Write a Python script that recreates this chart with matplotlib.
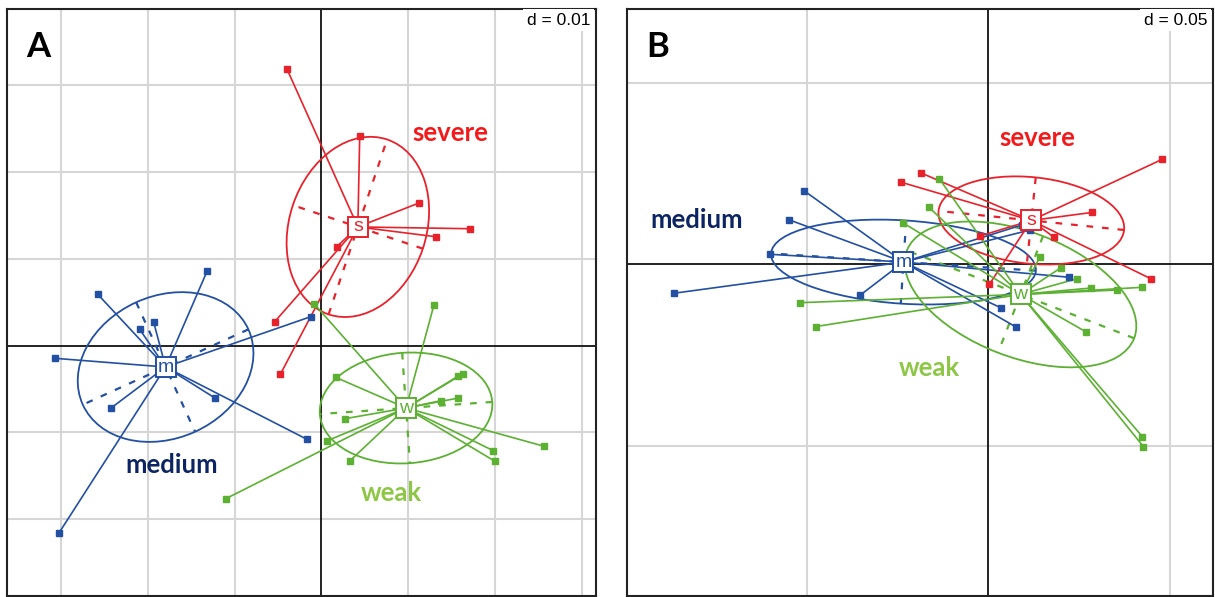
import numpy as np
import matplotlib
matplotlib.use("Agg")
import matplotlib.pyplot as plt
from matplotlib.patches import Ellipse

# ---------------- Panel A (grid step d = 0.01) ----------------
a_severe_x = [-0.00398, 0.00441, 0.01125, 0.01708, 0.01315, 0.00176, -0.00539, -0.00473]
a_severe_y = [0.03189, 0.02420, 0.01644, 0.01347, 0.01255, 0.01140, 0.00275, -0.00329]

a_medium_x = [-0.01317, -0.02581, -0.01935, -0.02097, -0.00125, -0.03070, -0.01228, -0.02431, -0.00167, -0.03028]
a_medium_y = [0.00863, 0.00591, 0.00268, 0.00187, 0.00332, -0.00148, -0.00606, -0.00724, -0.01082, -0.02163]

a_weak_x = [-0.00083, 0.01298, 0.00164, 0.01578, 0.01629, 0.01375, 0.01578, 0.00271, 0.00067, 0.00329,
            0.01982, 0.02001, 0.02570, -0.01104]
a_weak_y = [0.00479, 0.00471, -0.00367, -0.00352, -0.00329, -0.00637, -0.00606, -0.00844, -0.01098, -0.01329,
            -0.01213, -0.01336, -0.01163, -0.01767]

# ---------------- Panel B (grid step d = 0.05) ----------------
b_severe_x = [0.04788, -0.01854, -0.02402, 0.02843, 0.01804, 0.04471, 0.00022, -0.00234]
b_severe_y = [0.02893, 0.02515, 0.02259, 0.01427, 0.00744, -0.00397, -0.00556, 0.00780]

b_medium_x = [-0.05083, -0.05504, -0.06019, -0.08675, -0.03540, 0.02226, 0.00336, 0.00771, 0.00923, 0.01143]
b_medium_y = [0.02028, 0.01229, 0.00275, -0.00799, -0.00854, -0.00358, -0.01196, -0.01736, 0.01083, 0.00945]

b_weak_x = [-0.01350, -0.01639, -0.02361, 0.01419, 0.01997, 0.02446, 0.02832, 0.03540, 0.04229, -0.05198,
            -0.04752, 0.02678, 0.04240, 0.04270]
b_weak_y = [0.02350, 0.01570, 0.01146, 0.00209, -0.00094, -0.00397, -0.00653, -0.00708, -0.00634, -0.01058,
            -0.01714, -0.01857, -0.04749, -0.05025]

groups = ["medium", "severe", "weak"]
letters = {"medium": "m", "severe": "s", "weak": "w"}
mark_colors = {"medium": "#2350a2", "severe": "#e8222b", "weak": "#5cb032"}
name_colors = {"medium": "#0c2462", "severe": "#f21a1a", "weak": "#8dc745"}

panels = [
    dict(letter="A", d=0.01, grid=0.01,
         xlim=(-0.03627, 0.03166), ylim=(-0.02889, 0.03881),
         pos=[7 / 1215, 1 / 597, 589 / 1215, 587 / 597],
         data={"medium": (a_medium_x, a_medium_y),
               "severe": (a_severe_x, a_severe_y),
               "weak": (a_weak_x, a_weak_y)},
         names={"severe": (0.01482, 0.02451), "medium": (-0.01724, -0.01378),
                "weak": (0.00802, -0.01701)}),
    dict(letter="B", d=0.05, grid=0.05,
         xlim=(-0.09959, 0.06185), ylim=(-0.09138, 0.07033),
         pos=[627 / 1215, 1 / 597, 586 / 1215, 587 / 597],
         data={"medium": (b_medium_x, b_medium_y),
               "severe": (b_severe_x, b_severe_y),
               "weak": (b_weak_x, b_weak_y)},
         names={"severe": (0.01336, 0.03479), "medium": (-0.08030, 0.01220),
                "weak": (-0.01639, -0.02857)}),
]

CELL = 1.0  # ellipse size in standard deviations

fig = plt.figure(figsize=(12.15, 5.97), dpi=100)
fig.patch.set_facecolor("white")

for p in panels:
    ax = fig.add_axes(p["pos"])
    ax.set_xlim(*p["xlim"])
    ax.set_ylim(*p["ylim"])
    ax.set_xticks([])
    ax.set_yticks([])
    for s in ax.spines.values():
        s.set_color("#222222")
        s.set_linewidth(1.5)

    # background grid
    g = p["grid"]
    for k in np.arange(np.ceil(p["xlim"][0] / g), np.floor(p["xlim"][1] / g) + 1):
        if k != 0:
            ax.axvline(k * g, color="#d6d6d6", lw=1.5, zorder=0)
    for k in np.arange(np.ceil(p["ylim"][0] / g), np.floor(p["ylim"][1] / g) + 1):
        if k != 0:
            ax.axhline(k * g, color="#d6d6d6", lw=1.5, zorder=0)
    ax.axvline(0, color="#111111", lw=1.3, zorder=1)
    ax.axhline(0, color="#111111", lw=1.3, zorder=1)

    stats = {}
    for gname in groups:
        xs = np.asarray(p["data"][gname][0])
        ys = np.asarray(p["data"][gname][1])
        cx, cy = xs.mean(), ys.mean()
        cov = np.cov(np.vstack([xs, ys]), bias=True)
        vals, vecs = np.linalg.eigh(cov)
        stats[gname] = (xs, ys, cx, cy, vals, vecs)

    # ellipses and their axes
    for gname in groups:
        xs, ys, cx, cy, vals, vecs = stats[gname]
        col = mark_colors[gname]
        major = vecs[:, 1]
        ang = np.degrees(np.arctan2(major[1], major[0]))
        ax.add_patch(Ellipse((cx, cy), 2 * CELL * np.sqrt(vals[1]), 2 * CELL * np.sqrt(vals[0]),
                             angle=ang, fill=False, ec=col, lw=1.3, zorder=2))
        for i in range(2):
            r = CELL * np.sqrt(vals[i])
            v = vecs[:, i]
            ax.plot([cx - r * v[0], cx + r * v[0]], [cy - r * v[1], cy + r * v[1]],
                    color=col, lw=1.6, ls=(0, (3, 4)), zorder=2)

    # stars linking each point to its class centre
    for gname in groups:
        xs, ys, cx, cy, vals, vecs = stats[gname]
        col = mark_colors[gname]
        for x, y in zip(xs, ys):
            ax.plot([cx, x], [cy, y], color=col, lw=1.2, zorder=3)

    for gname in groups:
        xs, ys, cx, cy, vals, vecs = stats[gname]
        col = mark_colors[gname]
        ax.plot(xs, ys, "s", ms=4.6, color=col, mec=col, zorder=4)

    # class centre labels
    for gname in groups:
        xs, ys, cx, cy, vals, vecs = stats[gname]
        col = mark_colors[gname]
        ax.plot(cx, cy, "s", ms=15, mfc="white", mec=col, mew=1.4, zorder=5)
        ax.text(cx, cy, letters[gname], color=col, fontsize=14, ha="center", va="center",
                family="Liberation Sans", zorder=6)

    # group names
    for gname, (tx, ty) in p["names"].items():
        ax.text(tx, ty, gname, color=name_colors[gname], fontsize=18.5, fontweight="bold",
                family="Lato", ha="center", va="center", zorder=7)

    ax.text(0.053, 0.935, p["letter"], transform=ax.transAxes, fontsize=25, fontweight="bold",
            family="Lato", ha="center", va="center", color="black", zorder=7)
    ax.text(0.990, 0.981, f"d = {p['d']:.2f}", transform=ax.transAxes, fontsize=12.5,
            family="Liberation Sans", ha="right", va="center", color="black", zorder=7,
            bbox=dict(boxstyle="square,pad=0.2", fc="white", ec="none"))

fig.savefig("out.png", dpi=100, facecolor="white")
